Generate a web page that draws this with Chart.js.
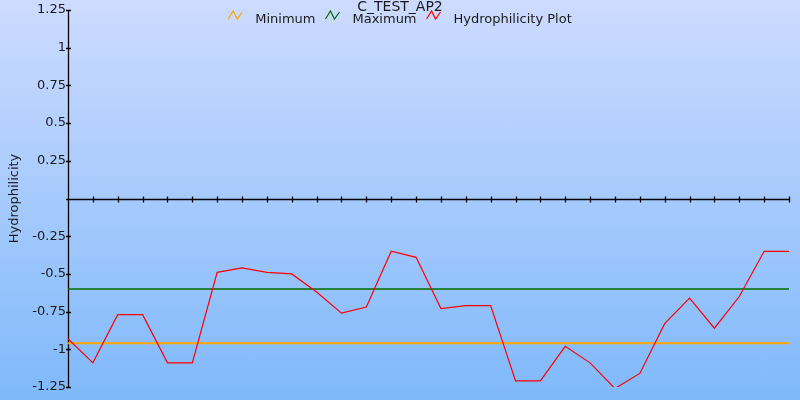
<!DOCTYPE html>
<html lang="en">
<head>
    <meta charset="UTF-8">
    <title>C_TEST_AP2</title>
    <script src="https://cdn.jsdelivr.net/npm/chart.js"></script>
    <style>
        body {
            margin: 0;
        }
        .chart-container {
            width: 800px;
            height: 400px;
            background: linear-gradient(#cddbff, #7fb9fa);
        }
    </style>
</head>
<body>
    <div class="chart-container">
        <canvas id="hydroChart"></canvas>
    </div>
    <script>
        // Residue positions along the sequence
        const positions = [
            '1', '2', '3', '4', '5', '6', '7', '8', '9', '10',
            '11', '12', '13', '14', '15', '16', '17', '18', '19', '20',
            '21', '22', '23', '24', '25', '26', '27', '28', '29', '30'
        ];
        // Hydrophilicity values
        const hydrophilicity = [
            -0.93, -1.09, -0.77, -0.77, -1.09, -1.09, -0.49, -0.46, -0.49, -0.50,
            -0.62, -0.76, -0.72, -0.35, -0.39, -0.73, -0.71, -0.71, -1.21, -1.21,
            -0.98, -1.09, -1.26, -1.16, -0.83, -0.66, -0.86, -0.65, -0.35, -0.35
        ];
        const minimumValue = -0.96;
        const maximumValue = -0.60;
        const yTicks = [1.25, 1, 0.75, 0.5, 0.25, 0, -0.25, -0.5, -0.75, -1, -1.25];

        const FONT = 'DejaVu Sans';
        const TEXT = '#1a1a1a';

        // small zigzag used as legend symbol
        function zigzag(ctx, x, y, color) {
            ctx.save();
            ctx.strokeStyle = color;
            ctx.lineWidth = 1.2;
            ctx.beginPath();
            ctx.moveTo(x, y + 4);
            ctx.lineTo(x + 5, y - 4);
            ctx.lineTo(x + 9, y + 4);
            ctx.lineTo(x + 14, y - 3);
            ctx.stroke();
            ctx.restore();
        }

        // axis lines crossing at zero, with ticks on both sides
        const axesPlugin = {
            id: 'crossAxes',
            beforeDatasetsDraw(chart) {
                const ctx = chart.ctx;
                const x = chart.scales.x;
                const y = chart.scales.y;
                const area = chart.chartArea;
                const x0 = Math.round(area.left) + 0.5;
                const y0 = Math.round(y.getPixelForValue(0)) + 0.5;
                ctx.save();
                ctx.strokeStyle = '#000';
                ctx.lineWidth = 1.3;
                ctx.beginPath();
                ctx.moveTo(x0, area.top);
                ctx.lineTo(x0, area.bottom);
                yTicks.forEach(v => {
                    const py = Math.round(y.getPixelForValue(v)) + 0.5;
                    ctx.moveTo(x0 - 2.5, py);
                    ctx.lineTo(x0 + 2.5, py);
                });
                ctx.moveTo(x0, y0);
                ctx.lineTo(area.right, y0);
                positions.forEach((p, i) => {
                    const px = Math.round(x.getPixelForValue(i)) + 0.5;
                    ctx.moveTo(px, y0 - 3);
                    ctx.lineTo(px, y0 + 3);
                });
                ctx.stroke();
                ctx.restore();
            },
            afterDraw(chart) {
                const ctx = chart.ctx;
                ctx.save();
                ctx.fillStyle = TEXT;
                ctx.textBaseline = 'alphabetic';
                // title
                ctx.font = '14px "' + FONT + '"';
                ctx.textAlign = 'center';
                ctx.fillText('C_TEST_AP2', 400, 11);
                // legend
                ctx.font = '13px "' + FONT + '"';
                ctx.textAlign = 'left';
                const sets = chart.data.datasets;
                const widths = sets.map(d => ctx.measureText(d.label).width);
                const total = widths.reduce((a, w) => a + w + 27, 0) + 10 * (sets.length - 1);
                let lx = 400 - total / 2;
                sets.forEach((d, i) => {
                    zigzag(ctx, lx, 15, d.borderColor);
                    ctx.fillText(d.label, lx + 27, 22.5);
                    lx += 27 + widths[i] + 10;
                });
                ctx.restore();
            }
        };

        new Chart(document.getElementById('hydroChart'), {
            type: 'line',
            data: {
                labels: positions,
                datasets: [{
                    label: 'Minimum',
                    data: [{ x: positions[0], y: minimumValue }, { x: positions[positions.length - 1], y: minimumValue }],
                    borderColor: '#ffa500',
                    borderWidth: 2,
                    pointRadius: 0,
                    order: 3
                }, {
                    label: 'Maximum',
                    data: [{ x: positions[0], y: maximumValue }, { x: positions[positions.length - 1], y: maximumValue }],
                    borderColor: '#006b00',
                    borderWidth: 1.3,
                    pointRadius: 0,
                    order: 2
                }, {
                    label: 'Hydrophilicity Plot',
                    data: hydrophilicity,
                    borderColor: '#ff0000',
                    borderWidth: 1.2,
                    pointRadius: 0,
                    tension: 0,
                    order: 1
                }]
            },
            plugins: [axesPlugin],
            options: {
                responsive: true,
                maintainAspectRatio: false,
                animation: false,
                layout: {
                    padding: { top: 10, bottom: 13, left: 0, right: 11 }
                },
                plugins: {
                    legend: { display: false },
                    title: { display: false },
                    tooltip: { enabled: false }
                },
                scales: {
                    x: {
                        display: false,
                        offset: false
                    },
                    y: {
                        min: -1.25,
                        max: 1.25,
                        afterFit(scale) {
                            scale.width = 68;
                        },
                        afterBuildTicks(scale) {
                            scale.ticks = yTicks.map(v => ({ value: v }));
                        },
                        grid: { display: false, drawTicks: false, tickLength: 0 },
                        border: { display: false },
                        ticks: {
                            padding: 2,
                            color: TEXT,
                            font: { family: FONT, size: 13 },
                            callback: v => (Math.abs(v) < 1e-9 ? '' : String(+v.toFixed(2)))
                        },
                        title: {
                            display: true,
                            text: 'Hydrophilicity',
                            color: TEXT,
                            font: { family: FONT, size: 13 },
                            padding: { top: 7, bottom: 0 }
                        }
                    }
                }
            }
        });
    </script>
</body>
</html>
